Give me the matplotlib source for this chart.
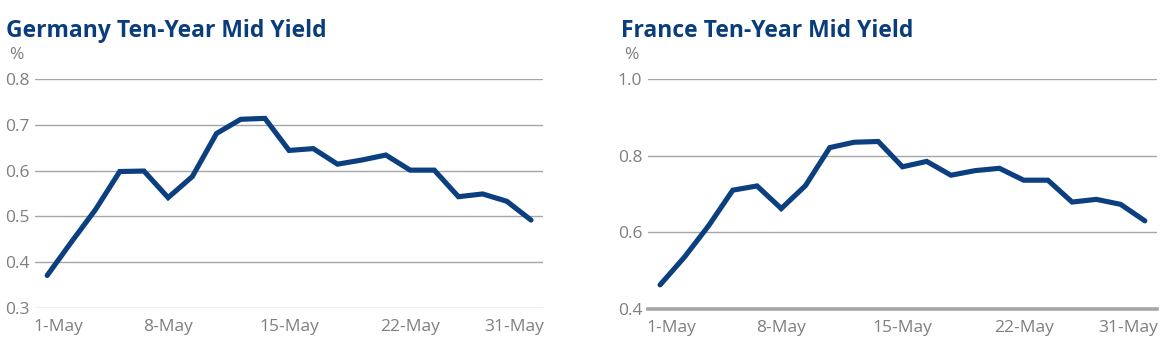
import matplotlib.pyplot as plt
from matplotlib.ticker import FixedLocator

# Datos: 21 dias habiles de mayo
dias = list(range(21))
etiquetas = ["1-May", "8-May", "15-May", "22-May", "31-May"]
pos_etiquetas = [0.45, 5, 10, 15, 19.3]

alemania = [0.371, 0.444, 0.515, 0.598, 0.599, 0.541, 0.587, 0.681, 0.712, 0.714,
            0.644, 0.648, 0.614, 0.623, 0.634, 0.601, 0.601, 0.543, 0.549, 0.533, 0.492]
francia = [0.463, 0.535, 0.617, 0.710, 0.721, 0.662, 0.722, 0.821, 0.835, 0.837,
           0.771, 0.785, 0.749, 0.761, 0.767, 0.736, 0.736, 0.679, 0.686, 0.673, 0.630]

azul = "#0b3f7f"
gris = "#a6a6a6"
texto = "#7f7f7f"

plt.rcParams["font.family"] = ["Open Sans", "DejaVu Sans"]

fig = plt.figure(figsize=(11.69, 3.62), dpi=100)

paneles = [
    ("Germany Ten-Year Mid Yield", alemania, [0.3, 0.4, 0.5, 0.6, 0.7, 0.8], "{:.1f}",
     [0.030, 0.1492, 0.4346, 0.6326], 0.005),
    ("France Ten-Year Mid Yield", francia, [0.4, 0.6, 0.8, 1.0], "{:.1f}",
     [0.5543, 0.1464, 0.4354, 0.6354], 0.531),
]

for i, (titulo, serie, yticks, fmt, rect, xt) in enumerate(paneles):
    ax = fig.add_axes(rect)
    ax.plot(dias, serie, color=azul, lw=3.7, solid_joinstyle="miter", solid_capstyle="round")
    ax.set_xlim(-0.5, 20.5)
    ax.set_ylim(yticks[0], yticks[-1])
    ax.set_yticks(yticks)
    ax.set_yticklabels([fmt.format(v) for v in yticks])
    ax.xaxis.set_major_locator(FixedLocator(pos_etiquetas))
    ax.set_xticklabels(etiquetas)
    for s in ax.spines.values():
        s.set_visible(False)
    ax.grid(axis="y", color=gris, lw=1.0)
    ax.set_axisbelow(True)
    ax.tick_params(length=0, labelsize=12.5, colors=texto)
    ax.tick_params(axis="y", pad=4)
    ax.tick_params(axis="x", pad=8)
    if i == 1:
        ax.axhline(yticks[0], color=gris, lw=2.6, clip_on=False)
    fig.text(xt, 0.915, titulo, fontsize=16.5, fontweight="bold", color="#0a3d7c", va="center")
    fig.text(xt + 0.003, 0.848, "%", fontsize=12.5, color=texto, va="center")

fig.savefig("out.png", dpi=100)
